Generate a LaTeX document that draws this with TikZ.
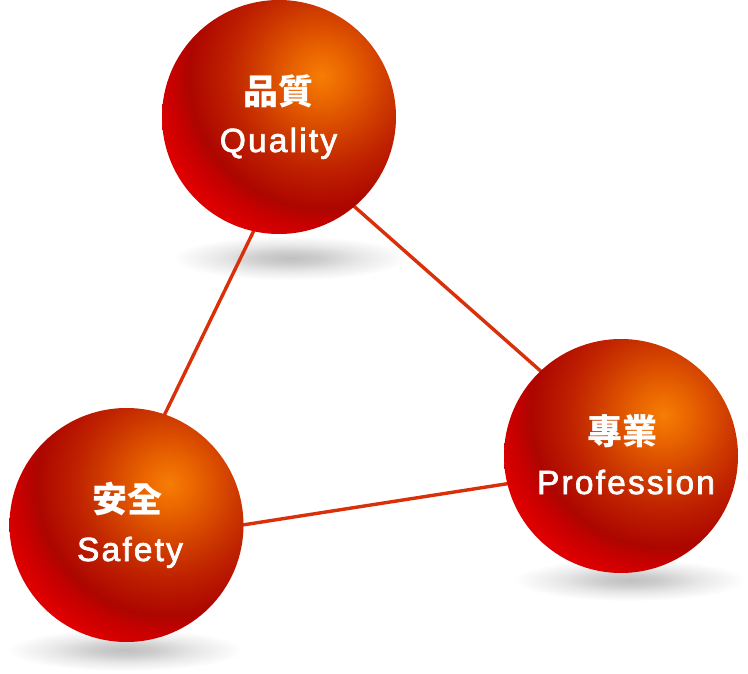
\documentclass[tikz,border=0pt]{standalone}
\usepackage{fontspec}
\setmainfont{Liberation Sans}
\newfontfamily\cjk{Noto Sans CJK TC}
\newfontfamily\lat{Liberation Sans}[LetterSpace=6.5, FakeBold=2]
\usetikzlibrary{calc}
\definecolor{b0}{RGB}{247,125,5}
\definecolor{b1}{RGB}{234,102,0}
\definecolor{b2}{RGB}{218,76,0}
\definecolor{b3}{RGB}{204,56,0}
\definecolor{b4}{RGB}{190,32,0}
\definecolor{b5}{RGB}{179,14,0}
\definecolor{b6}{RGB}{172,6,0}
\definecolor{b7}{RGB}{200,0,0}
\definecolor{b8}{RGB}{222,0,0}
\definecolor{linkred}{RGB}{218,48,10}
\definecolor{sh0}{RGB}{192,192,192}
\definecolor{sh1}{RGB}{206,206,206}
\definecolor{sh2}{RGB}{232,232,232}
% concentric shading round the highlight; the path radius (200 px) is 25bp
\pgfdeclareradialshading{ballshade}{\pgfpointorigin}{color(0bp)=(b0); color(3.125bp)=(b1); color(6.25bp)=(b2); color(8.75bp)=(b3); color(11.875bp)=(b4); color(15bp)=(b5); color(16.5bp)=(b6); color(18.75bp)=(b7); color(21.25bp)=(b8); color(50bp)=(b8)}
\pgfdeclareradialshading{shadowshade}{\pgfpointorigin}{color(0bp)=(sh0); color(7bp)=(sh1); color(15bp)=(sh2); color(25bp)=(white); color(50bp)=(white)}
\tikzset{
  ball/.style={circle, minimum size=234pt, inner sep=0pt},
  shadowblob/.style={shade, shading=shadowshade},
  link/.style={draw=linkred, line width=3.4pt},
  cjklabel/.style={text=white, inner sep=0pt, font=\cjk\bfseries\fontsize{35}{40}\selectfont},
  latlabel/.style={text=white, inner sep=0pt, anchor=base, font=\lat\fontsize{33.5}{40}\selectfont},
}
\begin{document}
\begin{tikzpicture}[x=1pt,y=1pt]
\useasboundingbox (0,0) rectangle (748,-674);
\fill[white] (0,0) rectangle (748,-674);
% shadows
\shade[shadowblob] (290,-258) ellipse (118pt and 22pt);
\shade[shadowblob] (125,-650) ellipse (118pt and 21pt);
\shade[shadowblob] (630,-580) ellipse (116pt and 21pt);
% connector end points (hidden under the spheres)
\coordinate (qs) at (309,-117);
\coordinate (sq) at (111,-525);
\coordinate (qp) at (279,-140);
\coordinate (pq) at (621,-442);
\coordinate (sp) at (127,-543);
\coordinate (ps) at (621,-466);
\draw[link] (qs) -- (sq);
\draw[link] (qp) -- (pq);
\draw[link] (sp) -- (ps);
% spheres
\node[ball] (Q) at (279,-117) {};
\node[ball] (S) at (126.5,-525) {};
\node[ball] (P) at (621,-456) {};
\foreach \n in {Q,S,P}{
  \begin{scope}
    \clip (\n) circle (117pt);
    \shade[shading=ballshade] ($(\n)+(42pt,41pt)$) circle (200pt);
  \end{scope}
}
% labels
\node[cjklabel] (qc) at (278.5,-91) {品質};
\node[latlabel] (ql) at (278.5,-152) {Quality};
\node[cjklabel] (sc) at (127.5,-499) {安全};
\node[latlabel] (sl) at (130,-561) {Safety};
\node[cjklabel] (pc) at (622,-431.5) {專業};
\node[latlabel] (pl) at (626,-494) {Profession};
\end{tikzpicture}
\end{document}
